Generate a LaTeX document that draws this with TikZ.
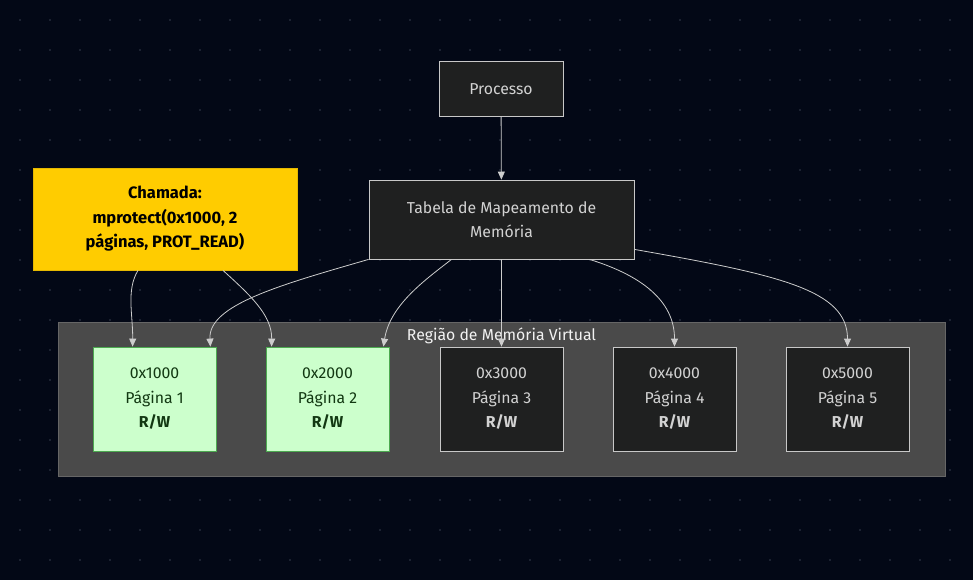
\documentclass[tikz,border=0pt]{standalone}
\usepackage{fontspec}
\setmainfont{Fira Sans}
\usepackage{tikz}
\usetikzlibrary{arrows.meta,positioning}
\usepackage{xcolor}
\definecolor{bgnavy}{RGB}{3,8,22}
\definecolor{griddot}{RGB}{38,44,60}
\definecolor{regionfill}{RGB}{74,74,74}
\definecolor{regionline}{RGB}{102,102,102}
\definecolor{boxfill}{RGB}{31,32,32}
\definecolor{boxline}{RGB}{200,200,200}
\definecolor{boxtext}{RGB}{210,210,210}
\definecolor{pgreen}{RGB}{204,255,204}
\definecolor{pgreenline}{RGB}{76,170,80}
\definecolor{pgreentext}{RGB}{18,56,18}
\definecolor{callyellow}{RGB}{255,204,0}
\definecolor{callline}{RGB}{230,184,0}
\definecolor{edgegray}{RGB}{205,205,205}
\tikzstyle{darkbox} = [draw=boxline, fill=boxfill, text=boxtext, line width=0.8pt, inner sep=0pt, align=center, font=\fontsize{15.8}{24.5}\selectfont]
\tikzstyle{page} = [darkbox, minimum width=123pt, minimum height=104pt]
\tikzstyle{changed} = [fill=pgreen, draw=pgreenline, text=pgreentext]
\tikzstyle{arrow} = [line width=0.8pt, ->, >={Triangle[length=8pt,width=7pt]}, color=edgegray]

\begin{document}
\begin{tikzpicture}[x=1pt, y=-1pt]
% Background and dot grid
\fill[bgnavy] (0,0) rectangle (973,580);
\useasboundingbox (0,0) rectangle (973,580);
\foreach \i in {0,...,32}
  \foreach \j in {0,...,18}
    \fill[griddot] (20+30*\i, 20+30*\j) circle (1.1pt);

% Virtual memory region
\draw[fill=regionfill, draw=regionline, line width=0.8pt] (58,322) rectangle (945,476);
\node[text=white!90!gray, font=\fontsize{15.8}{18}\selectfont] (regiao) at (501.5,335.5) {Região de Memória Virtual};

% Top nodes
\node[darkbox, minimum width=124pt, minimum height=55pt] (proc) at (501,89) {Processo};
\node[darkbox, minimum width=265pt, minimum height=79pt] (tab) at (501.5,219.5) {Tabela de Mapeamento de\\Memória};
\node[draw=callline, fill=callyellow, text=black, line width=0.8pt, minimum width=264pt, minimum height=102pt, align=center, font=\fontsize{16.5}{24.5}\selectfont\bfseries] (ch) at (165,219) {Chamada:\\mprotect(0x1000, 2\\páginas, PROT\_READ)};

% Pages
\node[page, changed] (p1) at (154.5,399) {0x1000\\Página 1\\\textbf{R/W}};
\node[page, changed] (p2) at (327.5,399) {0x2000\\Página 2\\\textbf{R/W}};
\node[page] (p3) at (501.5,399) {0x3000\\Página 3\\\textbf{R/W}};
\node[page] (p4) at (674.5,399) {0x4000\\Página 4\\\textbf{R/W}};
\node[page] (p5) at (847.5,399) {0x5000\\Página 5\\\textbf{R/W}};

% Edges
\draw[arrow] (proc) -- (tab);
\draw[arrow] (tab.south west) .. controls (280,285) and (208,305) .. ([xshift=-6pt]p1.north east);
\draw[arrow] ([xshift=-50pt]tab.south) .. controls (425,280) and (390,305) .. ([xshift=-6pt]p2.north east);
\draw[arrow] (tab.south) -- (p3.north);
\draw[arrow] ([xshift=88pt]tab.south) .. controls (640,275) and (674.5,300) .. (p4.north);
\draw[arrow] ([yshift=10pt]tab.south east) .. controls (780,275) and (847.5,290) .. (p5.north);
\draw[arrow] ([xshift=-27pt]ch.south) .. controls (126,290) and (133,315) .. ([xshift=40pt]p1.north west);
\draw[arrow] ([xshift=58pt]ch.south) .. controls (250,295) and (272,315) .. ([xshift=6pt]p2.north west);
\end{tikzpicture}
\end{document}
